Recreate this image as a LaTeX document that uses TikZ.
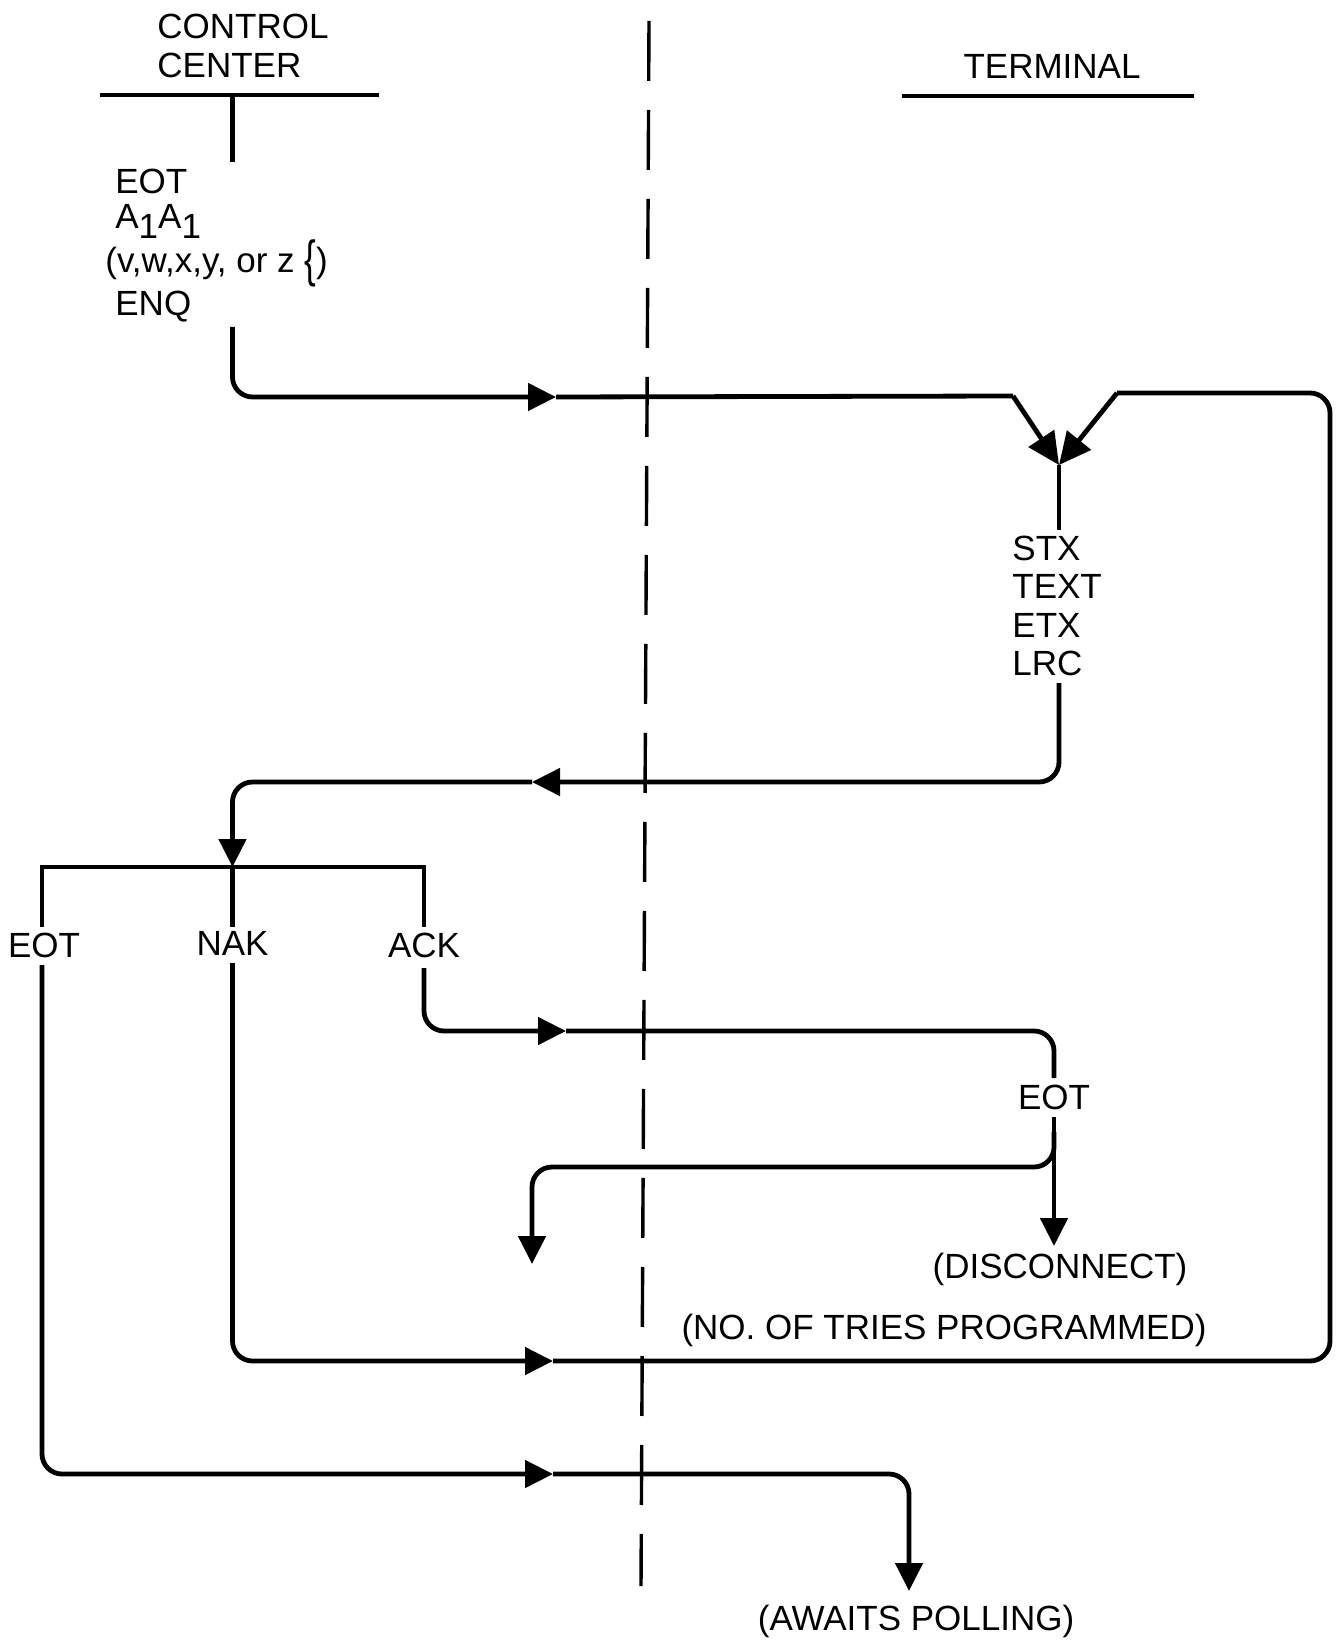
\documentclass[tikz,border=0pt]{standalone}
\usepackage{fontspec}
\setmainfont{Liberation Sans}
\usetikzlibrary{arrows.meta}
\begin{document}
\begin{tikzpicture}[x=0.5pt,y=-0.5pt,
  lbl/.style={font=\fontsize{17.5}{21}\selectfont, inner sep=0pt},
  wire/.style={line width=2.4pt},
  flow/.style={line width=2.4pt, rounded corners=10pt},
  tip/.style={-{Triangle[length=14pt,width=13.5pt]}},
  bigtip/.style={-{Triangle[length=16pt,width=15pt]}}]
\useasboundingbox (0,0) rectangle (1338,1641);
% divider
\coordinate (dT) at (649,21);
\coordinate (dB) at (641,1586);
\draw[line width=1.7pt, dash pattern=on 30pt off 14.5pt] (dT) -- (dB);
% headers
\node[lbl, anchor=west] (ctl) at (157,26) {CONTROL};
\node[lbl, anchor=west] (ctr) at (157,65) {CENTER};
\coordinate (ccL) at (100,95); \coordinate (ccR) at (379,95);
\draw[wire] (ccL) -- (ccR);
\node[lbl] (term) at (1052,66) {TERMINAL};
\coordinate (tmL) at (902,96); \coordinate (tmR) at (1194,96);
\draw[wire] (tmL) -- (tmR);
% control centre polling block
\coordinate (ccTop) at (232.5,95); \coordinate (ccTick) at (232.5,162);
\draw[wire] (ccTop) -- (ccTick);
\node[lbl, anchor=west] (eot1) at (115,181) {EOT};
\node[lbl, anchor=west] (addr) at (115,221) {A\raisebox{-5pt}{1}A\raisebox{-5pt}{1}};
\node[lbl, anchor=west] (sel) at (105,263) {(v,w,x,y, or z \raisebox{-2pt}{\scalebox{1}[1.45]{\{}})};
\node[lbl, anchor=west] (enq) at (115,307) {ENQ};
\coordinate (pollS) at (232.5,327);
\coordinate (pollA) at (556,397);
\coordinate (bendL) at (1013,396);
\coordinate (merge) at (1059,465);
\draw[flow,tip] (pollS) |- (pollA);
\draw[wire] (pollA) -- (bendL);
\draw[wire,bigtip] (bendL) -- (merge);
% terminal message
\coordinate (msgT) at (1059,530);
\draw[wire] (merge) -- (msgT);
\node[lbl, anchor=west] (stx) at (1012,548) {STX};
\node[lbl, anchor=west] (txt) at (1012,586) {TEXT};
\node[lbl, anchor=west] (etx) at (1012,625) {ETX};
\node[lbl, anchor=west] (lrc) at (1012,663) {LRC};
\coordinate (msgS) at (1059,683);
\coordinate (respA) at (532,782);
\coordinate (busC) at (232.5,867);
\draw[flow,tip] (msgS) |- (respA);
\draw[flow,tip] (respA) -| (busC);
% reply bus
\coordinate (busL) at (42,927); \coordinate (busR) at (424,867); \coordinate (busRb) at (424,927);
\coordinate (busCb) at (232.5,927);
\draw[wire] (busL) |- (busR) -- (busRb);
\draw[wire] (busC) -- (busCb);
\node[lbl] (eot2) at (44,945) {EOT};
\node[lbl] (nak) at (232.5,943) {NAK};
\node[lbl] (ack) at (424,945) {ACK};
% ACK branch
\coordinate (ackS) at (424,968);
\coordinate (ackA) at (566,1031);
\coordinate (ackE) at (1054,1078);
\draw[flow,tip] (ackS) |- (ackA);
\draw[flow] (ackA) -| (ackE);
\node[lbl] (eot3) at (1054,1097) {EOT};
\coordinate (eot3S) at (1054,1117);
\coordinate (discA) at (1054,1246);
\draw[wire,tip] (eot3S) -- (discA);
\coordinate (brS) at (1054,1132);
\coordinate (brM) at (532,1167);
\coordinate (brE) at (532,1264);
\draw[flow,tip] (brS) |- (brM) -- (brE);
\node[lbl] (disc) at (1060,1269) {(DISCONNECT)};
% NAK branch (retry)
\node[lbl] (tries) at (944,1330) {(NO. OF TRIES PROGRAMMED)};
\coordinate (nakS) at (232.5,963);
\coordinate (nakA) at (553,1361);
\coordinate (loopT) at (1330,393);
\coordinate (bendR) at (1117,393);
\draw[flow,tip] (nakS) |- (nakA);
\draw[flow] (nakA) -| (loopT) -- (bendR);
\draw[wire,bigtip] (bendR) -- (merge);
% EOT branch
\coordinate (eotS) at (42,965);
\coordinate (eotA) at (553,1474);
\coordinate (pollE) at (909,1591);
\draw[flow,tip] (eotS) |- (eotA);
\draw[flow,tip] (eotA) -| (pollE);
\node[lbl] (await) at (916,1621) {(AWAITS POLLING)};
\end{tikzpicture}
\end{document}
